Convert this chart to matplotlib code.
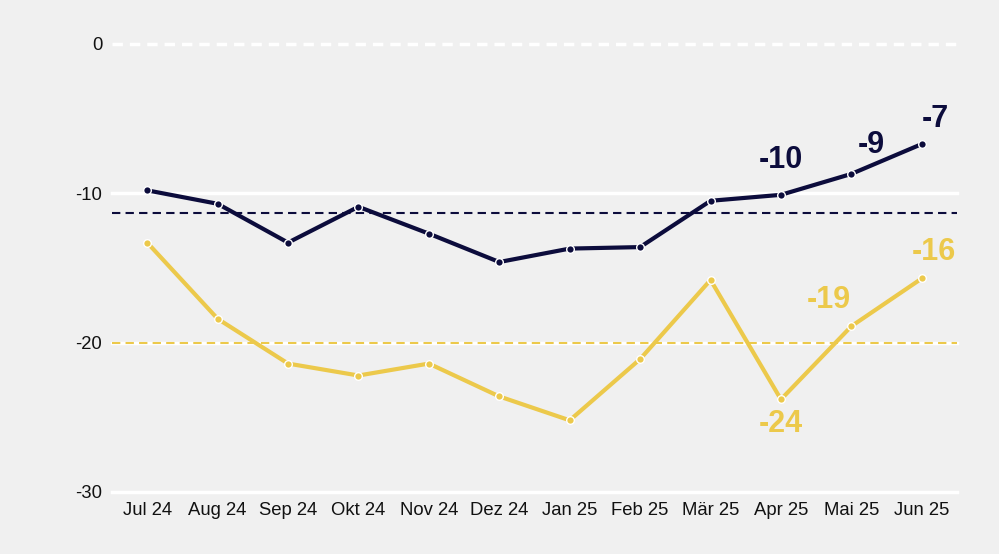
import matplotlib.pyplot as plt
import numpy as np

plt.rcParams['font.family'] = ['Liberation Sans', 'DejaVu Sans']

months = ['Jul 24', 'Aug 24', 'Sep 24', 'Okt 24', 'Nov 24', 'Dez 24',
          'Jan 25', 'Feb 25', 'Mär 25', 'Apr 25', 'Mai 25', 'Jun 25']
navy_vals = [-9.8, -10.7, -13.3, -10.9, -12.7, -14.6, -13.7, -13.6, -10.5, -10.1, -8.7, -6.7]
yellow_vals = [-13.3, -18.4, -21.4, -22.2, -21.4, -23.6, -25.2, -21.1, -15.8, -23.8, -18.9, -15.7]
navy_avg = -11.3
yellow_avg = -20.0
yticks = [0, -10, -20, -30]

# labelled points: (index, text, dx px, dy px)
navy_labels = [(9, '-10', 0, 35), (10, '-9', 20, 29), (11, '-7', 14, 25)]
yellow_labels = [(9, '-24', 0, -25), (10, '-19', -23, 26), (11, '-16', 12, 26)]

NAVY = '#0c0c3c'
YELLOW = '#ecc94b'
BG = '#f0f0f0'

fig = plt.figure(figsize=(9.99, 5.54), dpi=100)
fig.patch.set_facecolor(BG)
ax = fig.add_axes([112/999, 1 - 492/554, (957-112)/999, (492-44)/554])
ax.set_facecolor(BG)

x = np.arange(len(months))
ax.set_xlim(-0.5, len(months) - 0.5)
ax.set_ylim(-30, 0)

# grid
for t in yticks:
    if t == 0:
        ax.axhline(t, color='white', lw=2.5, ls=(0, (3, 2)), zorder=1, clip_on=False)
    else:
        ax.axhline(t, color='white', lw=2.5, zorder=1, clip_on=False)

ax.axhline(navy_avg, color=NAVY, lw=1.5, ls=(0, (4, 2.5)), zorder=2)
ax.axhline(yellow_avg, color=YELLOW, lw=1.5, ls=(0, (4, 2.5)), zorder=2)

ax.plot(x, yellow_vals, color=YELLOW, lw=3, marker='o', ms=5.5,
        mfc=YELLOW, mec='white', mew=1, zorder=3, clip_on=False)
ax.plot(x, navy_vals, color=NAVY, lw=3, marker='o', ms=5.5,
        mfc=NAVY, mec='white', mew=1, zorder=4, clip_on=False)

for i, txt, dx, dy in navy_labels:
    ax.annotate(txt, (x[i], navy_vals[i]), xytext=(dx*0.72, dy*0.72),
                textcoords='offset points', ha='center', va='center',
                fontsize=22, fontweight='bold', color=NAVY)
for i, txt, dx, dy in yellow_labels:
    ax.annotate(txt, (x[i], yellow_vals[i]), xytext=(dx*0.72, dy*0.72),
                textcoords='offset points', ha='center', va='center',
                fontsize=22, fontweight='bold', color=YELLOW)

ax.set_xticks(x)
ax.set_xticklabels(months, fontsize=13.3, color='#111111')
ax.set_yticks(yticks)
ax.set_yticklabels([str(t) for t in yticks], fontsize=13.3, color='#111111')
ax.tick_params(length=0, axis='x', pad=7)
ax.tick_params(length=0, axis='y', pad=7)
for s in ax.spines.values():
    s.set_visible(False)

fig.savefig('out.png', dpi=100, facecolor=BG)
